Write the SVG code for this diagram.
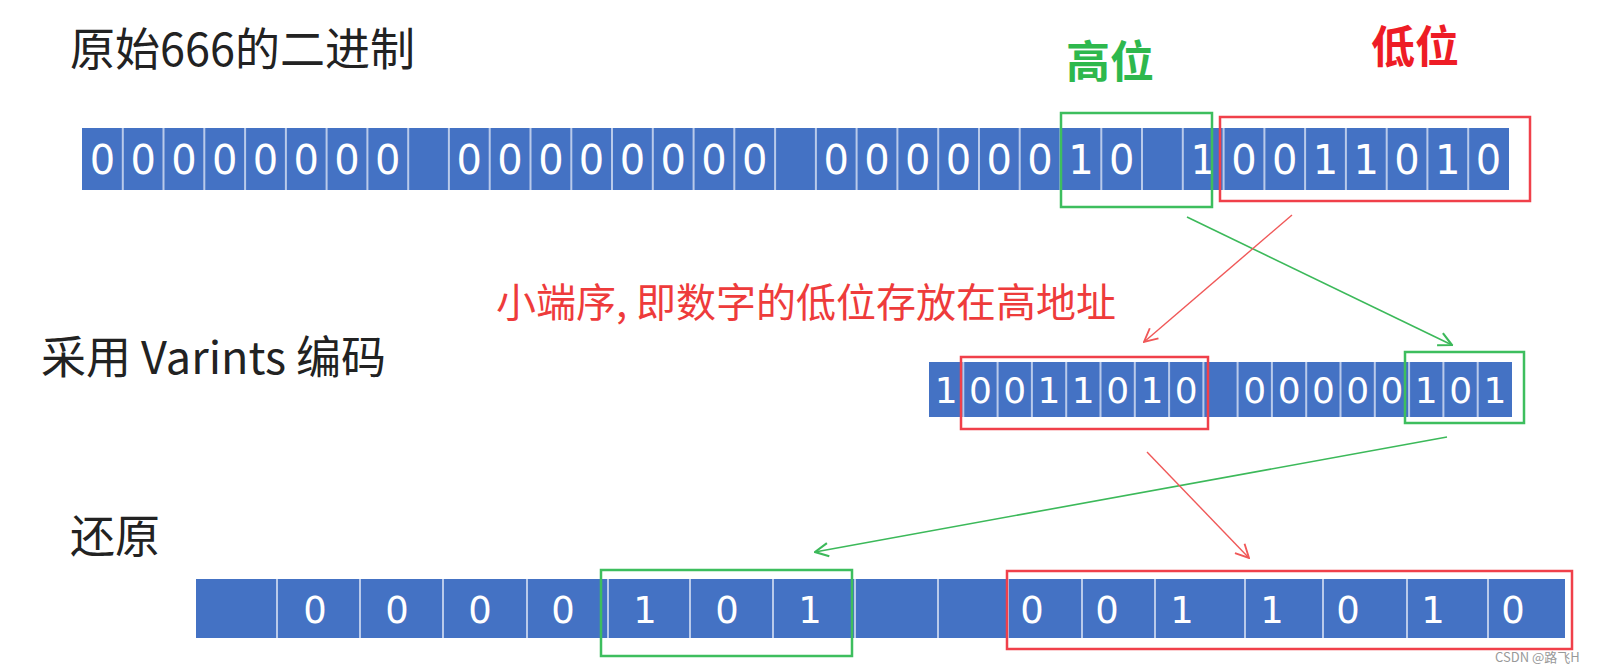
<svg xmlns="http://www.w3.org/2000/svg" width="1607" height="672" viewBox="0 0 1607 672">
<defs>
<style>
.lbl{font-family:"Noto Sans CJK SC","Noto Sans",sans-serif;fill:#222;font-size:45px}
.hi{font-family:"Noto Sans CJK SC",sans-serif;font-weight:bold;font-size:44px}
.bar{fill:#4472C4}
.sep{stroke:#B9CAEA;stroke-width:2}
.d{font-family:"DejaVu Sans",sans-serif;fill:#fff;text-anchor:middle}
.d1{font-size:40px}
.d2{font-size:36px}
.d3{font-size:37px}
.gbox{fill:none;stroke:#3DBE5E;stroke-width:2.5}
.rbox{fill:none;stroke:#F0404A;stroke-width:2.5}
.gl{stroke:#3CB95A;stroke-width:1.6;fill:none}
.rl{stroke:#F05858;stroke-width:1.4;fill:none}
</style>
<marker id="ag" viewBox="0 0 12 12" refX="11" refY="6" markerWidth="16" markerHeight="16" markerUnits="userSpaceOnUse" orient="auto"><path d="M1,1 L11,6 L1,11" fill="none" stroke="#3CB95A" stroke-width="1.6"/></marker>
<marker id="ar" viewBox="0 0 12 12" refX="11" refY="6" markerWidth="16" markerHeight="16" markerUnits="userSpaceOnUse" orient="auto"><path d="M1,1 L11,6 L1,11" fill="none" stroke="#F05858" stroke-width="1.4"/></marker>
</defs>
<rect width="1607" height="672" fill="#fff"/>

<g id="labels">
<text class="lbl" x="70" y="66">原始666的二进制</text>
<text class="hi" x="1066" y="78" fill="#2EB84D">高位</text>
<text class="hi" x="1371" y="63" fill="#EE1C25">低位</text>
<text x="496" y="317" font-family="'Noto Sans CJK SC',sans-serif" font-size="40" fill="#EE3B3B">小端序, 即数字的低位存放在高地址</text>
<text class="lbl" x="41" y="374" font-size="46">采用 Varints 编码</text>
<text class="lbl" x="70" y="553">还原</text>
<text x="1495" y="662" font-family="'Noto Sans CJK SC',sans-serif" font-size="13" fill="#999">CSDN @路飞H</text>
</g>

<g id="row1">
<rect class="bar" x="82" y="128" width="1427" height="62"/>
<path class="sep" d="M122.8,128V190M163.5,128V190M204.3,128V190M245.1,128V190M285.9,128V190M326.6,128V190M367.4,128V190M408.2,128V190M448.9,128V190M489.7,128V190M530.5,128V190M571.3,128V190M612,128V190M652.8,128V190M693.6,128V190M734.3,128V190M775.1,128V190M815.9,128V190M856.6,128V190M897.4,128V190M938.2,128V190M979,128V190M1019.7,128V190M1060.5,128V190M1101.3,128V190M1142,128V190M1182.8,128V190M1223.6,128V190M1264.4,128V190M1305.1,128V190M1345.9,128V190M1386.7,128V190M1427.4,128V190M1468.2,128V190"/>
<g class="d d1">
<text x="102.4" y="173.6">0</text><text x="143.2" y="173.6">0</text><text x="183.9" y="173.6">0</text><text x="224.7" y="173.6">0</text><text x="265.5" y="173.6">0</text><text x="306.2" y="173.6">0</text><text x="347" y="173.6">0</text><text x="387.8" y="173.6">0</text>
<text x="469.3" y="173.6">0</text><text x="510.1" y="173.6">0</text><text x="550.9" y="173.6">0</text><text x="591.6" y="173.6">0</text><text x="632.4" y="173.6">0</text><text x="673.2" y="173.6">0</text><text x="714" y="173.6">0</text><text x="754.7" y="173.6">0</text>
<text x="836.2" y="173.6">0</text><text x="877" y="173.6">0</text><text x="917.8" y="173.6">0</text><text x="958.6" y="173.6">0</text><text x="999.3" y="173.6">0</text><text x="1040.1" y="173.6">0</text>
<text x="1080.9" y="173.6">1</text><text x="1121.7" y="173.6">0</text><text x="1203.2" y="173.6">1</text>
<text x="1244" y="173.6">0</text><text x="1284.8" y="173.6">0</text><text x="1325.5" y="173.6">1</text><text x="1366.3" y="173.6">1</text><text x="1407.1" y="173.6">0</text><text x="1447.8" y="173.6">1</text><text x="1488.6" y="173.6">0</text>
</g>
<rect class="gbox" x="1061" y="113" width="151" height="94"/>
<rect class="rbox" x="1220" y="117" width="310" height="84"/>
</g>

<g id="row2">
<rect class="bar" x="929" y="362" width="583" height="55"/>
<path class="sep" d="M963.3,362V417M997.6,362V417M1031.9,362V417M1066.2,362V417M1100.5,362V417M1134.8,362V417M1169.1,362V417M1203.4,362V417M1237.6,362V417M1271.9,362V417M1306.2,362V417M1340.5,362V417M1374.8,362V417M1409.1,362V417M1443.4,362V417M1477.7,362V417"/>
<g class="d d2">
<text x="946.1" y="402.5">1</text><text x="980.4" y="402.5">0</text><text x="1014.7" y="402.5">0</text><text x="1049" y="402.5">1</text><text x="1083.3" y="402.5">1</text><text x="1117.6" y="402.5">0</text><text x="1151.9" y="402.5">1</text><text x="1186.2" y="402.5">0</text>
<text x="1254.8" y="402.5">0</text><text x="1289.1" y="402.5">0</text><text x="1323.4" y="402.5">0</text><text x="1357.7" y="402.5">0</text><text x="1392" y="402.5">0</text><text x="1426.3" y="402.5">1</text><text x="1460.6" y="402.5">0</text><text x="1494.9" y="402.5">1</text>
</g>
<rect class="rbox" x="961" y="357" width="247" height="72"/>
<rect class="gbox" x="1405" y="352" width="119" height="71"/>
</g>

<g id="row3">
<rect class="bar" x="196" y="579" width="1369" height="59"/>
<path class="sep" d="M277,579V638M360,579V638M443,579V638M527,579V638M608,579V638M690,579V638M773,579V638M855,579V638M938,579V638M1008,579V638M1082,579V638M1155,579V638M1245,579V638M1323,579V638M1407,579V638M1488,579V638"/>
<g class="d d3">
<text x="315" y="623">0</text><text x="397" y="623">0</text><text x="480" y="623">0</text><text x="563" y="623">0</text><text x="645" y="623">1</text><text x="727" y="623">0</text><text x="810" y="623">1</text>
<text x="1032" y="623">0</text><text x="1107" y="623">0</text><text x="1182" y="623">1</text><text x="1272" y="623">1</text><text x="1348" y="623">0</text><text x="1433" y="623">1</text><text x="1513" y="623">0</text>
</g>
<rect class="gbox" x="601" y="570" width="251" height="86"/>
<rect class="rbox" x="1007" y="571" width="565" height="78"/>
</g>

<g id="connectors">
<line class="gl" x1="1187" y1="217" x2="1452" y2="345" marker-end="url(#ag)"/>
<line class="rl" x1="1292" y1="215" x2="1144" y2="342" marker-end="url(#ar)"/>
<line class="gl" x1="1447" y1="437" x2="815" y2="552" stroke-width="2.4" marker-end="url(#ag)"/>
<line class="rl" x1="1147" y1="452" x2="1249" y2="558" marker-end="url(#ar)"/>
</g>
</svg>
